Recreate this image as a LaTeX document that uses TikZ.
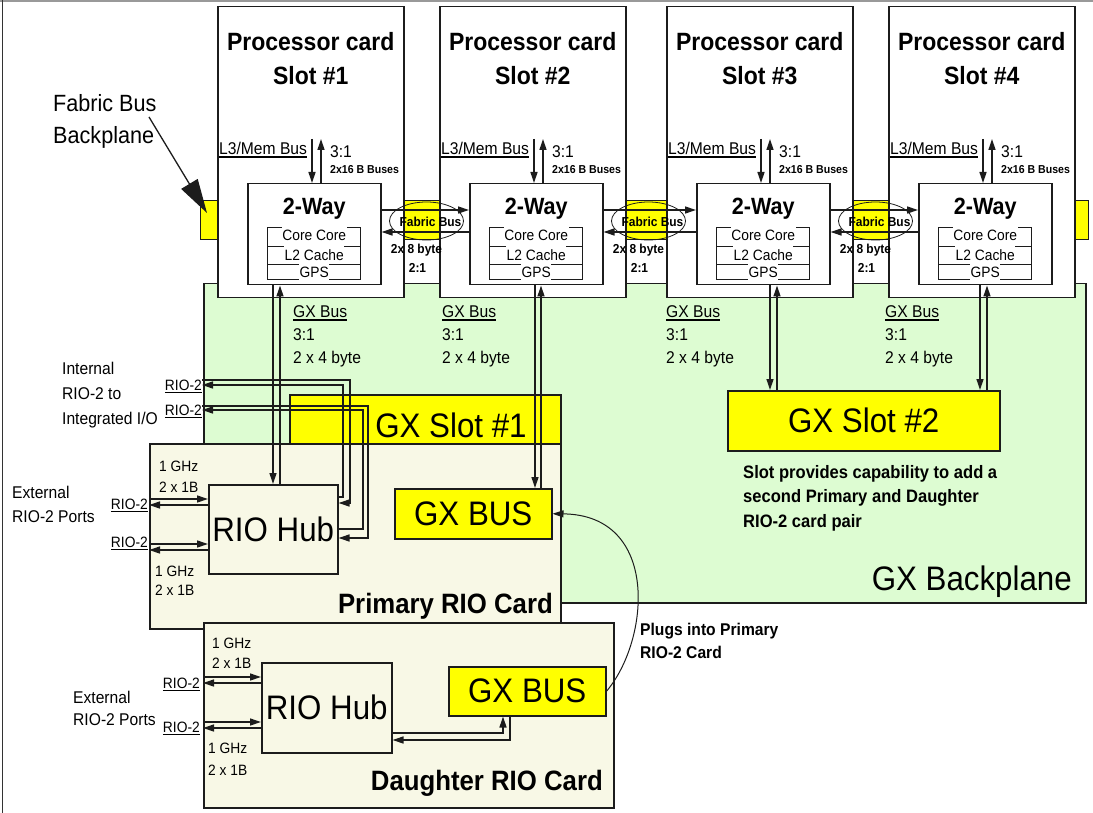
\documentclass[tikz,border=0pt]{standalone}
\usepackage{fontspec}
\setmainfont{Liberation Sans}[FakeStretch=0.92]
\usetikzlibrary{arrows.meta,positioning,calc,shapes.geometric}
\definecolor{gxgreen}{HTML}{DDFCD2}
\definecolor{cream}{HTML}{F8F8E6}
\definecolor{slotyellow}{HTML}{FFFF00}
\definecolor{edge}{HTML}{1C1C1C}
\newcommand{\fsz}[2]{\fontsize{#1}{#2}\selectfont}
\newcommand{\undr}[1]{\leavevmode\setbox0\hbox{#1}\rlap{\rule[-3pt]{\wd0}{1.5pt}}\box0}
\tikzset{
  box/.style={draw=edge,line width=1.5pt,inner sep=0pt,anchor=north west},
  procbox/.style={box,fill=white,minimum width=186pt,minimum height=291pt},
  waybox/.style={box,fill=white,minimum width=133pt,minimum height=101pt},
  slotbox/.style={box,fill=slotyellow,font=\fsz{34}{40}},
  rioboard/.style={box,fill=cream},
  hubbox/.style={box,fill=cream,font=\fsz{34}{40},minimum width=129pt,minimum height=89pt},
  txt/.style={inner sep=0pt,font=\fsz{17}{23}},
  btxt/.style={inner sep=0pt,font=\bfseries\fsz{17}{23}},
  smalltxt/.style={inner sep=0pt,font=\fsz{15}{21}},
  cell/.style={anchor=base,fill=white,inner xsep=0.5pt,inner ysep=0pt,text height=16pt,text depth=2pt,font=\fsz{15}{18}},
  arr/.style={-{Triangle[length=11pt,width=7pt]},line width=1.3pt,draw=edge},
  bigarr/.style={-{Triangle[length=34pt,width=19pt]},line width=1.3pt,draw=edge},
  plugarr/.style={-{Triangle[length=11pt,width=7pt]},line width=1pt,draw=edge}
}

\begin{document}
\begin{tikzpicture}[x=1pt,y=-1pt]
  \useasboundingbox (0,0) rectangle (1093,813);
  \draw[black!40,line width=2pt] (0,1) -- (1093,1);
  \draw[black!80,line width=1pt] (2,0) -- (2,813);

  % backplanes
  \node[box,fill=gxgreen,minimum width=882pt,minimum height=319pt] (gxbp) at (203,283) {};
  \node[box,fill=slotyellow,line width=1pt,minimum width=888pt,minimum height=39pt] (fabric) at (200,200) {};
  \node[anchor=base east,inner sep=0pt,font=\fsz{34}{40}] (gxbplbl) at (1072,590) {GX Backplane};

  % processor cards
  \foreach \n/\x in {1/217,2/439,3/666,4/888} {
    \node[procbox] (card\n) at (\x,6) {};
    \node[align=center,inner sep=0pt,font=\bfseries\fsz{25}{34}] (title\n) at ($(card\n.north)+(0,53)$) {Processor card\\Slot \#\n};
    \node[txt,anchor=base west] (l3\n) at ($(card\n.north west)+(2,149)$) {\undr{L3/Mem Bus}};
    \node[txt,anchor=base west] (l3r\n) at ($(card\n.north west)+(113,152)$) {3:1};
    \node[inner sep=0pt,anchor=base west,font=\bfseries\fsz{11.5}{13}] (l3w\n) at ($(card\n.north west)+(113,168)$) {2x16 B Buses};
    \node[waybox] (way\n) at ($(card\n.north west)+(30,177)$) {};
    \node[anchor=base,inner sep=0pt,font=\bfseries\fsz{23.5}{28}] (wayt\n) at ($(way\n.north)+(0,31.5)$) {2-Way};
    \draw[line width=1pt,draw=edge] ($(way\n.north west)+(20,45)$) rectangle ($(way\n.north west)+(113,96.3)$);
    \draw[line width=1pt,draw=edge] ($(way\n.north west)+(20,63.7)$) -- ++(93,0) ($(way\n.north west)+(20,82)$) -- ++(93,0);
    \node[cell] at ($(way\n.north)+(0,58)$) {Core Core};
    \node[cell] at ($(way\n.north)+(0,78)$) {L2 Cache};
    \node[cell] at ($(way\n.north)+(0,95)$) {GPS};
    \draw[arr] ($(way\n.north west)+(65,-44)$) -- ($(way\n.north west)+(65,0)$);
    \draw[arr] ($(way\n.north west)+(74,0)$) -- ($(way\n.north west)+(74,-44)$);
  }

  % fabric bus links
  \foreach \a/\b in {1/2,2/3,3/4} {
    \draw[arr] ($(way\a.north east)+(0,27)$) -- ($(way\b.north west)+(0,27)$);
    \draw[arr] ($(way\b.north west)+(0,49)$) -- ($(way\a.north east)+(0,49)$);
    \node[draw=edge,ellipse,line width=0.8pt,inner sep=0pt,minimum width=74pt,minimum height=38pt] (fab\a) at ($(card\a.north east)+(22,215)$) {};
    \node[inner sep=0pt,font=\bfseries\fsz{13}{15}] at ($(fab\a)+(4,1)$) {Fabric Bus};
    \node[inner sep=0pt,font=\bfseries\fsz{13}{15}] at ($(card\a.north east)+(12,244)$) {2x 8 byte};
    \node[inner sep=0pt,font=\bfseries\fsz{13}{15}] at ($(card\a.north east)+(13,262)$) {2:1};
  }

  \foreach \n/\x in {1/293,2/442,3/666,4/885}
    \node[txt,anchor=north west,align=left] (gxl\n) at (\x,305.6) {\undr{GX Bus}\\3:1\\2 x 4 byte};

  % GX slots
  \node[slotbox,minimum width=271pt,minimum height=56pt] (slot1) at (289,394) {};
  \node[inner sep=0pt,anchor=base,font=\fsz{34}{40}] (slot1l) at (451,437) {GX Slot \#1};
  \node[slotbox,minimum width=272pt,minimum height=60pt] (slot2) at (727,390) {GX Slot \#2};
  \node[btxt,anchor=north west,align=left,font=\bfseries\fsz{18}{24.5}] (slotnote) at (743,465) {Slot provides capability to add a\\second Primary and Daughter\\RIO-2 card pair};

  % primary RIO card
  \node[rioboard,minimum width=411pt,minimum height=185pt] (cardP) at (149,443) {};
  \node[anchor=base east,inner sep=0pt,font=\bfseries\fsz{28}{32}] (cardPl) at (553,613) {Primary RIO Card};
  \node[hubbox] (hubP) at (208,484) {RIO Hub};
  \node[slotbox,minimum width=157pt,minimum height=50pt] (gxP) at (394,488) {GX BUS};

  % daughter RIO card
  \node[rioboard,minimum width=410pt,minimum height=185pt] (cardD) at (203,622) {};
  \node[anchor=base east,inner sep=0pt,font=\bfseries\fsz{28}{32}] (cardDl) at (603,790) {Daughter RIO Card};
  \node[hubbox,minimum width=130pt,minimum height=90pt] (hubD) at (261,662) {RIO Hub};
  \node[slotbox,minimum width=157pt,minimum height=49pt] (gxD) at (448,666) {GX BUS};

  % side labels
  \node[txt,anchor=north west,align=left,font=\fsz{23.5}{32}] (fbl) at (53,94.5) {Fabric Bus\\Backplane};
  \node[txt,anchor=north west,align=left,font=\fsz{17}{25}] (intl) at (62,361.6) {Internal\\RIO-2 to\\Integrated I/O};
  \node[txt,anchor=north west,align=left,font=\fsz{17}{24}] (extP) at (12,485.6) {External\\RIO-2 Ports};
  \node[txt,anchor=north west,align=left,font=\fsz{17}{22}] (extD) at (73,690.6) {External\\RIO-2 Ports};
  \node[smalltxt,anchor=north west,align=left] (ghzPa) at (159,460.8) {1 GHz\\2 x 1B};
  \node[smalltxt,anchor=north west,align=left,font=\fsz{15}{19.5}] (ghzPb) at (155,565.8) {1 GHz\\2 x 1B};
  \node[smalltxt,anchor=north west,align=left,font=\fsz{15}{20}] (ghzDa) at (212,637.8) {1 GHz\\2 x 1B};
  \node[smalltxt,anchor=north west,align=left,font=\fsz{15}{22}] (ghzDb) at (208,742.8) {1 GHz\\2 x 1B};
  \node[smalltxt,anchor=base east] (rioIa) at (202,390) {\undr{RIO-2}};
  \node[smalltxt,anchor=base east] (rioIb) at (202,415) {\undr{RIO-2}};
  \node[smalltxt,anchor=base east] (rioPa) at (148,509) {\undr{RIO-2}};
  \node[smalltxt,anchor=base east] (rioPb) at (148,547) {\undr{RIO-2}};
  \node[smalltxt,anchor=base east] (rioDa) at (200,688) {\undr{RIO-2}};
  \node[smalltxt,anchor=base east] (rioDb) at (200,732) {\undr{RIO-2}};
  \node[btxt,anchor=north west,align=left] (plug) at (640,622.6) {Plugs into Primary\\RIO-2 Card};

  % GX bus pairs
  \coordinate (gxa1) at (273,0); \coordinate (gxb1) at (280,0);
  \coordinate (gxa2) at (535,0); \coordinate (gxb2) at (541,0);
  \coordinate (gxa3) at (770,0); \coordinate (gxb3) at (777,0);
  \coordinate (gxa4) at (980,0); \coordinate (gxb4) at (987,0);
  \draw[arr] (way1.south -| gxa1) -- (hubP.north -| gxa1);
  \draw[arr] (hubP.north -| gxb1) -- (way1.south -| gxb1);
  \draw[arr] (way2.south -| gxa2) -- (gxP.north -| gxa2);
  \draw[arr] (gxP.north -| gxb2) -- (way2.south -| gxb2);
  \draw[arr] (way3.south -| gxa3) -- (slot2.north -| gxa3);
  \draw[arr] (slot2.north -| gxb3) -- (way3.south -| gxb3);
  \draw[arr] (way4.south -| gxa4) -- (slot2.north -| gxa4);
  \draw[arr] (slot2.north -| gxb4) -- (way4.south -| gxb4);

  % external RIO-2 ports
  \draw[arr] (cardP.west |- 0,499) -- (hubP.west |- 0,499);
  \draw[arr] (hubP.west |- 0,505) -- (cardP.west |- 0,505);
  \draw[arr] (cardP.west |- 0,544) -- (hubP.west |- 0,544);
  \draw[arr] (hubP.west |- 0,550) -- (cardP.west |- 0,550);
  \draw[arr] (cardD.west |- 0,677) -- (hubD.west |- 0,677);
  \draw[arr] (hubD.west |- 0,683) -- (cardD.west |- 0,683);
  \draw[arr] (cardD.west |- 0,722) -- (hubD.west |- 0,722);
  \draw[arr] (hubD.west |- 0,728) -- (cardD.west |- 0,728);

  % internal RIO-2
  \draw[arr] (hubP.east |- 0,497) -| (343,385) -- (rioIa.east |- 0,385);
  \draw[arr] (rioIa.east |- 0,380) -| (350,503) -- (hubP.east |- 0,503);
  \draw[arr] (hubP.east |- 0,529) -| (363,410) -- (rioIb.east |- 0,410);
  \draw[arr] (rioIb.east |- 0,406) -| (368,538) -- (hubP.east |- 0,538);

  % daughter hub to GX BUS
  \draw[arr] (hubD.east |- 0,733) -| ($(gxD.south west)+(55,0)$);
  \draw[arr] ($(gxD.south west)+(62,0)$) |- (hubD.east |- 0,740);

  % plug-in curve
  \draw[plugarr] (gxD.east) .. controls (650,640) and (660,515) .. (gxP.east);

  % fabric backplane pointer
  \coordinate (fbtip) at (207,213);
  \draw[bigarr] ($(fbl.north west)+(96,22.5)$) -- (fbtip);
\end{tikzpicture}
\end{document}
